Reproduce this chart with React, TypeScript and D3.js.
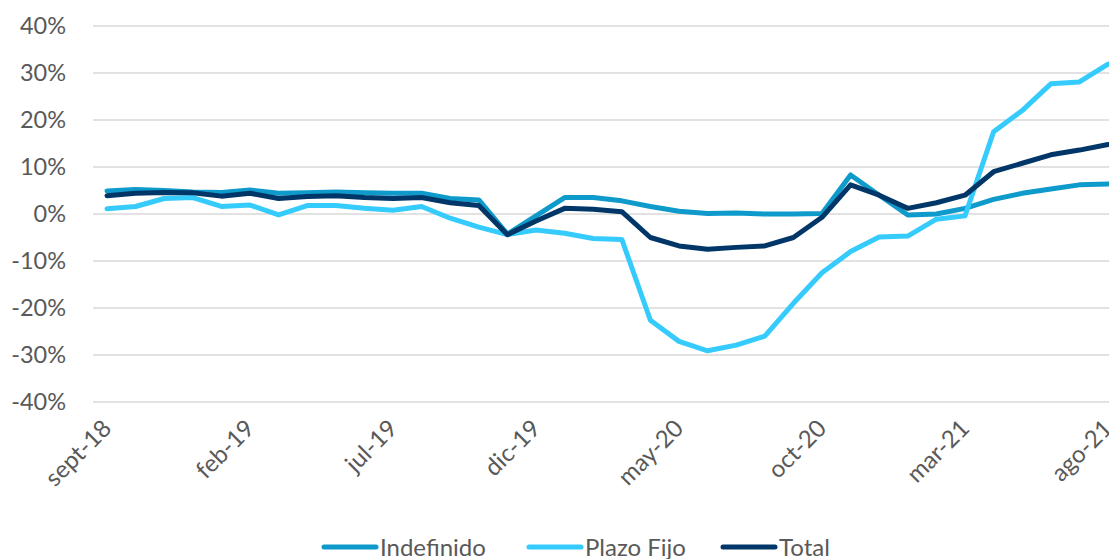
import { useEffect, useRef } from "react";
import * as d3 from "d3";

// monthly labels, sept-18 .. ago-21
const months = [
  "sept-18", "oct-18", "nov-18", "dic-18", "ene-19", "feb-19", "mar-19", "abr-19",
  "may-19", "jun-19", "jul-19", "ago-19", "sept-19", "oct-19", "nov-19", "dic-19",
  "ene-20", "feb-20", "mar-20", "abr-20", "may-20", "jun-20", "jul-20", "ago-20",
  "sept-20", "oct-20", "nov-20", "dic-20", "ene-21", "feb-21", "mar-21", "abr-21",
  "may-21", "jun-21", "jul-21", "ago-21",
];

const indefinido = [
  4.9, 5.2, 5.0, 4.7, 4.6, 5.1, 4.4, 4.5, 4.7, 4.5, 4.4, 4.4, 3.3, 3.0, -4.3, -0.4,
  3.5, 3.5, 2.8, 1.6, 0.6, 0.1, 0.2, 0.0, 0.0, 0.1, 8.3, 4.0, -0.2, 0.0, 1.2, 3.1,
  4.4, 5.3, 6.2, 6.4,
];

const plazoFijo = [
  1.1, 1.6, 3.3, 3.5, 1.6, 1.9, -0.2, 1.8, 1.8, 1.2, 0.8, 1.6, -0.9, -2.8, -4.4, -3.4,
  -4.1, -5.2, -5.4, -22.6, -27.1, -29.1, -27.9, -26.0, -19.0, -12.5, -8.0, -4.9, -4.7, -1.1, -0.4, 17.5,
  22.0, 27.7, 28.1, 31.9,
];

const total = [
  3.9, 4.4, 4.6, 4.5, 3.8, 4.4, 3.3, 3.7, 3.9, 3.5, 3.3, 3.5, 2.4, 1.8, -4.4, -1.5,
  1.2, 1.0, 0.5, -5.0, -6.8, -7.5, -7.1, -6.8, -5.0, -0.7, 6.2, 4.0, 1.2, 2.4, 4.0, 9.0,
  10.8, 12.6, 13.6, 14.8,
];

const yTicks = [-40, -30, -20, -10, 0, 10, 20, 30, 40];
const tickEvery = 5;

const series = [
  { name: "Indefinido", values: indefinido, color: "#0E9ACB" },
  { name: "Plazo Fijo", values: plazoFijo, color: "#35CBFC" },
  { name: "Total", values: total, color: "#003768" },
];

const App = () => {
  const svgRef = useRef<SVGSVGElement>(null);

  useEffect(() => {
    const svg = d3.select(svgRef.current);
    svg.selectAll("*").remove();

    const font = "Lato, 'Open Sans', sans-serif";
    const textColor = "#595959";

    const x = d3.scalePoint<string>().domain(months).range([107, 1108]);
    const y = d3.scaleLinear().domain([-40, 40]).range([402, 26]);

    // gridlines + y labels
    svg
      .append("g")
      .selectAll("line")
      .data(yTicks)
      .enter()
      .append("line")
      .attr("x1", 93)
      .attr("x2", 1109)
      .attr("y1", (d) => y(d))
      .attr("y2", (d) => y(d))
      .attr("stroke", "#d9d9d9")
      .attr("stroke-width", 1.5);

    svg
      .append("g")
      .selectAll("text")
      .data(yTicks)
      .enter()
      .append("text")
      .attr("x", 66)
      .attr("y", (d) => y(d))
      .attr("dy", "0.36em")
      .attr("text-anchor", "end")
      .attr("font-family", font)
      .attr("font-size", 23.5)
      .attr("fill", textColor)
      .text((d) => `${d}%`);

    // x labels, rotated
    const xLabels = months.filter((_, i) => i % tickEvery === 0);
    svg
      .append("g")
      .selectAll("text")
      .data(xLabels)
      .enter()
      .append("text")
      .attr("transform", (d) => `translate(${(x(d) as number) - 6}, 418) rotate(-45)`)
      .attr("text-anchor", "end")
      .attr("dy", "0.7em")
      .attr("font-family", font)
      .attr("font-size", 24)
      .attr("fill", textColor)
      .text((d) => d);

    // lines
    const line = d3
      .line<number>()
      .x((_, i) => x(months[i]) as number)
      .y((d) => y(d));

    svg
      .append("g")
      .selectAll("path")
      .data(series)
      .enter()
      .append("path")
      .attr("d", (d) => line(d.values))
      .attr("fill", "none")
      .attr("stroke", (d) => d.color)
      .attr("stroke-width", 5)
      .attr("stroke-linejoin", "round")
      .attr("stroke-linecap", "round");

    // legend
    const legendX = [322, 527, 721];
    const legend = svg
      .append("g")
      .selectAll("g")
      .data(series)
      .enter()
      .append("g")
      .attr("transform", (_, i) => `translate(${legendX[i]}, 547)`);
    legend
      .append("line")
      .attr("x1", 2)
      .attr("x2", 54)
      .attr("stroke", (d) => d.color)
      .attr("stroke-width", 5)
      .attr("stroke-linecap", "round");
    legend
      .append("text")
      .attr("x", 58)
      .attr("dy", "0.36em")
      .attr("font-family", font)
      .attr("font-size", 24)
      .attr("fill", textColor)
      .text((d) => d.name);
  }, []);

  return (
    <svg
      ref={svgRef}
      width={1109}
      height={559}
      style={{ position: "absolute", left: 0, top: 0, background: "#fff" }}
    />
  );
};

export default App;
